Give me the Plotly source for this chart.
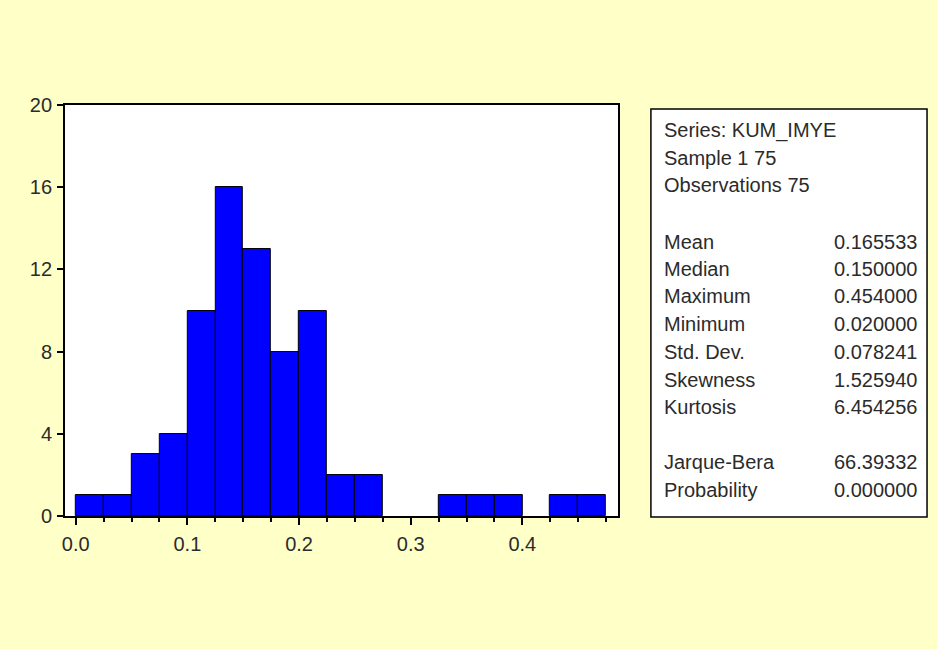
import plotly.graph_objects as go

# ---- data ----
bin_left = [0.000, 0.025, 0.050, 0.075, 0.100, 0.125, 0.150, 0.175, 0.200, 0.225,
            0.250, 0.275, 0.300, 0.325, 0.350, 0.375, 0.400, 0.425, 0.450]
counts = [1, 1, 3, 4, 10, 16, 13, 8, 10, 2, 2, 0, 0, 1, 1, 1, 0, 1, 1]
bin_width = 0.025

x_tickvals = [0.0, 0.1, 0.2, 0.3, 0.4]
x_ticktext = ["0.0", "0.1", "0.2", "0.3", "0.4"]
y_tickvals = [0, 4, 8, 12, 16, 20]

header_lines = ["Series: KUM_IMYE", "Sample 1 75", "Observations 75"]
stat_names = ["Mean", "Median", "Maximum", "Minimum", "Std. Dev.", "Skewness", "Kurtosis",
              "Jarque-Bera", "Probability"]
stat_values = ["0.165533", "0.150000", "0.454000", "0.020000", "0.078241", "1.525940",
               "6.454256", "66.39332", "0.000000"]

# ---- layout helpers (pixel -> paper) ----
W, H = 937, 649
def px(x):
    return x / W
def py(y):
    # rendered plot area appears ~630px tall, vertically centred
    return 1 - (y - 9.5) / 630.0

FONT = "Arial, Liberation Sans, sans-serif"
TXT = "#2b2b2b"
TICK_SIZE = 20
BOX_SIZE = 20

centers = [b + bin_width / 2 for b in bin_left]
line_widths = [1 if c > 0 else 0 for c in counts]

fig = go.Figure()
fig.add_trace(go.Bar(
    x=centers, y=counts, width=bin_width,
    marker=dict(color="#0000FF", line=dict(color="#000000", width=line_widths)),
    hoverinfo="skip",
))

fig.update_layout(
    width=W, height=H,
    margin=dict(l=0, r=0, t=0, b=0),
    paper_bgcolor="#FFFFC8",
    plot_bgcolor="#FFFFFF",
    showlegend=False,
    bargap=0,
    font=dict(family=FONT, size=TICK_SIZE, color=TXT),
    xaxis=dict(
        domain=[px(62), px(617)],
        range=[-0.0098, 0.4857],
        tickvals=x_tickvals, ticktext=x_ticktext,
        ticks="outside", ticklen=7, tickwidth=1.5, tickcolor="#000000",
        minor=dict(tickmode="linear", tick0=0, dtick=0.025, ticks="outside",
                   ticklen=4, tickwidth=1.5, tickcolor="#000000"),
        showline=True, linecolor="#000000", linewidth=1.5, mirror=True,
        showgrid=False, zeroline=False, ticklabelstandoff=2,
        tickfont=dict(family=FONT, size=TICK_SIZE, color=TXT),
    ),
    yaxis=dict(
        domain=[py(517), py(104)],
        range=[0, 20],
        tickvals=y_tickvals,
        ticks="outside", ticklen=6, tickwidth=1.5, tickcolor="#000000",
        showline=True, linecolor="#000000", linewidth=1.5, mirror=True,
        showgrid=False, zeroline=False, ticklabelstandoff=1,
        tickfont=dict(family=FONT, size=TICK_SIZE, color=TXT),
    ),
)

# stats box
fig.add_shape(type="rect", xref="paper", yref="paper",
              x0=px(650), x1=px(927), y0=py(518), y1=py(108),
              line=dict(color="#000000", width=1.5), fillcolor="#FFFFFF", layer="below")

header_y = [130, 157, 184]
stat_y = [242, 269, 296, 324, 352, 380, 407, 463, 491]

for t, y in zip(header_lines, header_y):
    fig.add_annotation(x=px(661), y=py(y), xref="paper", yref="paper", text=t,
                       showarrow=False, xanchor="left", yanchor="middle",
                       font=dict(family=FONT, size=BOX_SIZE, color=TXT))
for name, val, y in zip(stat_names, stat_values, stat_y):
    fig.add_annotation(x=px(661), y=py(y), xref="paper", yref="paper", text=name,
                       showarrow=False, xanchor="left", yanchor="middle",
                       font=dict(family=FONT, size=BOX_SIZE, color=TXT))
    fig.add_annotation(x=px(919), y=py(y), xref="paper", yref="paper", text=val,
                       showarrow=False, xanchor="right", yanchor="middle",
                       font=dict(family=FONT, size=BOX_SIZE, color=TXT))

fig.write_html("out.html")
